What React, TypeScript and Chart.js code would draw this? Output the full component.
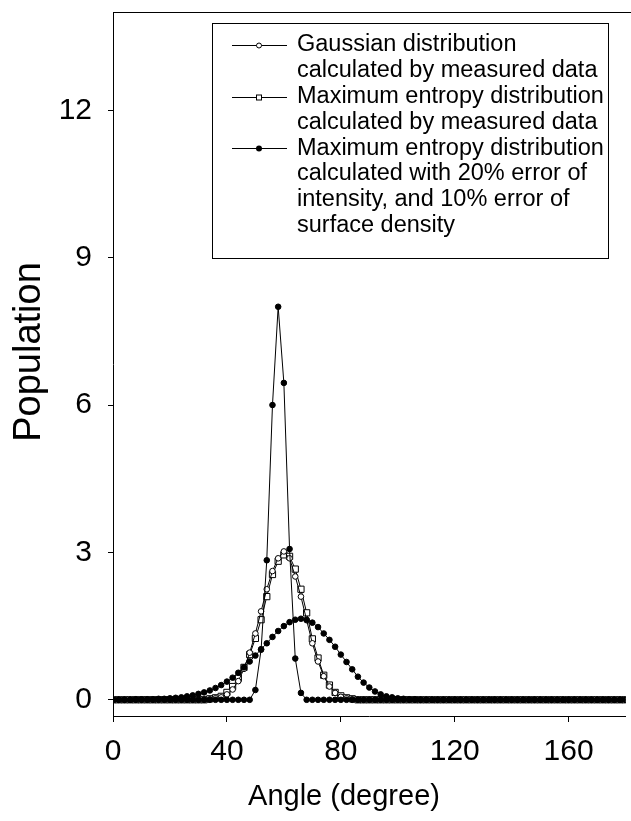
import React, { useEffect, useRef } from "react";
import { Chart, registerables } from "chart.js";

Chart.register(...registerables);

// Angle (degree), one point every 2 degrees
const angles = [
  0, 2, 4, 6, 8, 10, 12, 14, 16, 18,
  20, 22, 24, 26, 28, 30, 32, 34, 36, 38,
  40, 42, 44, 46, 48, 50, 52, 54, 56, 58,
  60, 62, 64, 66, 68, 70, 72, 74, 76, 78,
  80, 82, 84, 86, 88, 90, 92, 94, 96, 98,
  100, 102, 104, 106, 108, 110, 112, 114, 116, 118,
  120, 122, 124, 126, 128, 130, 132, 134, 136, 138,
  140, 142, 144, 146, 148, 150, 152, 154, 156, 158,
  160, 162, 164, 166, 168, 170, 172, 174, 176, 178,
  180,
];

// Gaussian distribution calculated by measured data (open circles)
const gaussianMeasured = [
  0, 0, 0, 0, 0, 0, 0, 0, 0, 0,
  0, 0, 0, 0, 0, 0, 0, 0.01, 0.03, 0.05,
  0.11, 0.21, 0.38, 0.63, 0.96, 1.35, 1.8, 2.25, 2.62, 2.88,
  3.02, 2.88, 2.51, 2.1, 1.62, 1.15, 0.78, 0.48, 0.27, 0.14,
  0.06, 0.03, 0.01, 0, 0, 0, 0, 0, 0, 0,
  0, 0, 0, 0, 0, 0, 0, 0, 0, 0,
  0, 0, 0, 0, 0, 0, 0, 0, 0, 0,
  0, 0, 0, 0, 0, 0, 0, 0, 0, 0,
  0, 0, 0, 0, 0, 0, 0, 0, 0, 0,
  0,
];

// Maximum entropy distribution calculated by measured data (open squares)
const maxEntropyMeasured = [
  0, 0, 0, 0, 0, 0, 0, 0, 0, 0,
  0, 0, 0, 0, 0, 0, 0, 0.02, 0.04, 0.07,
  0.15, 0.27, 0.44, 0.66, 0.92, 1.25, 1.63, 2.1, 2.55, 2.82,
  2.95, 2.92, 2.66, 2.25, 1.77, 1.24, 0.85, 0.5, 0.3, 0.15,
  0.08, 0.04, 0.02, 0, 0, 0, 0, 0, 0, 0,
  0, 0, 0, 0, 0, 0, 0, 0, 0, 0,
  0, 0, 0, 0, 0, 0, 0, 0, 0, 0,
  0, 0, 0, 0, 0, 0, 0, 0, 0, 0,
  0, 0, 0, 0, 0, 0, 0, 0, 0, 0,
  0,
];

// Maximum entropy distribution with errors, narrow peak (filled circles)
const maxEntropyErrorNarrow = [
  0, 0, 0, 0, 0, 0, 0, 0, 0, 0,
  0, 0, 0, 0, 0, 0, 0, 0, 0, 0,
  0, 0, 0, 0, 0, 0.2, 1.02, 2.84, 6.0, 8.0,
  6.45, 3.07, 0.84, 0.14, 0, 0, 0, 0, 0, 0,
  0, 0, 0, 0, 0, 0, 0, 0, 0, 0,
  0, 0, 0, 0, 0, 0, 0, 0, 0, 0,
  0, 0, 0, 0, 0, 0, 0, 0, 0, 0,
  0, 0, 0, 0, 0, 0, 0, 0, 0, 0,
  0, 0, 0, 0, 0, 0, 0, 0, 0, 0,
  0,
];

// Maximum entropy distribution with errors, broad curve (filled circles)
const maxEntropyErrorBroad = [
  0, 0, 0, 0, 0.01, 0.01, 0.01, 0.01, 0.02, 0.02,
  0.03, 0.04, 0.05, 0.07, 0.09, 0.12, 0.15, 0.19, 0.24, 0.3,
  0.37, 0.45, 0.55, 0.66, 0.78, 0.9, 1.03, 1.15, 1.28, 1.4,
  1.5, 1.58, 1.63, 1.65, 1.63, 1.57, 1.48, 1.35, 1.22, 1.08,
  0.92, 0.77, 0.62, 0.47, 0.35, 0.25, 0.17, 0.11, 0.07, 0.05,
  0.03, 0.02, 0.01, 0.01, 0, 0, 0, 0, 0, 0,
  0, 0, 0, 0, 0, 0, 0, 0, 0, 0,
  0, 0, 0, 0, 0, 0, 0, 0, 0, 0,
  0, 0, 0, 0, 0, 0, 0, 0, 0, 0,
  0,
];

const xTicks = [0, 40, 80, 120, 160];
const yTicks = [0, 3, 6, 9, 12];

const xTitle = "Angle (degree)";
const yTitle = "Population";

const legendGaussian = ["Gaussian distribution", "calculated by measured data"];
const legendMaxEntropy = ["Maximum entropy distribution", "calculated by measured data"];
const legendMaxEntropyError = [
  "Maximum entropy distribution",
  "calculated with 20% error of",
  "intensity, and 10% error of",
  "surface density",
];

const FONT = '"Liberation Sans", Arial, Helvetica, sans-serif';

const toXY = (vals: number[]) => angles.map((a, i) => ({ x: a, y: vals[i] }));

const decorPlugin = {
  id: "decor",
  afterDraw(chart: any) {
    const { ctx, chartArea } = chart;
    ctx.save();
    ctx.strokeStyle = "#000";
    ctx.lineWidth = 1;
    // top frame line
    ctx.beginPath();
    ctx.moveTo(chartArea.left, Math.round(chartArea.top) + 0.5);
    ctx.lineTo(chart.width, Math.round(chartArea.top) + 0.5);
    ctx.stroke();

    // axis titles
    ctx.fillStyle = "#000";
    ctx.textAlign = "center";
    ctx.textBaseline = "middle";
    ctx.font = `29px ${FONT}`;
    ctx.fillText(xTitle, 344, 797);
    ctx.save();
    ctx.font = `38px ${FONT}`;
    ctx.translate(30, 352);
    ctx.rotate(-Math.PI / 2);
    ctx.fillText(yTitle, 0, 0);
    ctx.restore();

    // legend box
    const bx = 212.5, by = 23.5, bw = 396, bh = 235;
    ctx.fillStyle = "#fff";
    ctx.fillRect(bx, by, bw, bh);
    ctx.strokeRect(bx, by, bw, bh);

    const lines = [...legendGaussian, ...legendMaxEntropy, ...legendMaxEntropyError];
    const y0 = 45;
    const lh = 25.8;
    ctx.fillStyle = "#000";
    ctx.font = `23.5px ${FONT}`;
    ctx.textAlign = "left";
    ctx.textBaseline = "middle";
    lines.forEach((t, i) => ctx.fillText(t, 297, y0 + i * lh));

    const markerRows = [0, 2, 4];
    markerRows.forEach((row, k) => {
      const y = Math.round(y0 + row * lh) + 0.5;
      ctx.beginPath();
      ctx.moveTo(232, y);
      ctx.lineTo(287, y);
      ctx.stroke();
      const mx = 259;
      if (k === 0) {
        ctx.beginPath();
        ctx.arc(mx, y, 2.5, 0, Math.PI * 2);
        ctx.fillStyle = "#fff";
        ctx.fill();
        ctx.stroke();
      } else if (k === 1) {
        ctx.fillStyle = "#fff";
        ctx.fillRect(mx - 2.5, y - 2.5, 5, 5);
        ctx.strokeRect(mx - 2.5, y - 2.5, 5, 5);
      } else {
        ctx.beginPath();
        ctx.arc(mx, y, 3, 0, Math.PI * 2);
        ctx.fillStyle = "#000";
        ctx.fill();
      }
    });
    ctx.restore();
  },
};

export default function App() {
  const canvasRef = useRef<HTMLCanvasElement | null>(null);

  useEffect(() => {
    if (!canvasRef.current) return;
    const filled = {
      borderColor: "#000",
      borderWidth: 1,
      pointStyle: "circle",
      pointRadius: 2.8,
      pointBorderWidth: 1,
      pointBorderColor: "#000",
      pointBackgroundColor: "#000",
      tension: 0,
    };
    const chart = new Chart(canvasRef.current, {
      type: "line",
      data: {
        datasets: [
          {
            ...filled,
            label: legendMaxEntropyError.join(" "),
            data: toXY(maxEntropyErrorNarrow),
          },
          {
            ...filled,
            label: legendMaxEntropyError.join(" ") + " ",
            data: toXY(maxEntropyErrorBroad),
          },
          {
            label: legendGaussian.join(" "),
            data: toXY(gaussianMeasured),
            borderColor: "#000",
            borderWidth: 1,
            pointStyle: "circle",
            pointRadius: 2.8,
            pointBorderWidth: 1,
            pointBorderColor: "#000",
            pointBackgroundColor: "#fff",
            tension: 0,
          },
          {
            label: legendMaxEntropy.join(" "),
            data: toXY(maxEntropyMeasured),
            borderColor: "#000",
            borderWidth: 1,
            pointStyle: "rect",
            pointRadius: 4.4,
            pointBorderWidth: 1,
            pointBorderColor: "#000",
            pointBackgroundColor: "#fff",
            tension: 0,
          },
        ],
      },
      options: {
        responsive: false,
        devicePixelRatio: 1,
        animation: false,
        layout: { padding: { top: 12, right: 0, left: 0, bottom: 0 } },
        plugins: {
          legend: { display: false },
          tooltip: { enabled: false },
        },
        scales: {
          x: {
            type: "linear",
            min: 0,
            max: 180,
            afterBuildTicks: (s: any) => {
              s.ticks = xTicks.map((v) => ({ value: v }));
            },
            afterFit: (s: any) => {
              s.height = 105;
              s.paddingLeft = 0;
              s.paddingRight = 0;
            },
            grid: {
              display: true,
              drawOnChartArea: false,
              drawTicks: true,
              tickLength: 6,
              color: "#000",
            },
            border: { display: true, color: "#000", width: 1 },
            ticks: {
              color: "#000",
              font: { family: FONT, size: 30 },
              padding: 12,
              maxRotation: 0,
              autoSkip: false,
            },
          },
          y: {
            type: "linear",
            min: -0.33,
            max: 14,
            afterBuildTicks: (s: any) => {
              s.ticks = yTicks.map((v) => ({ value: v }));
            },
            afterFit: (s: any) => {
              s.width = 113;
              s.paddingTop = 0;
              s.paddingBottom = 0;
            },
            grid: {
              display: true,
              drawOnChartArea: false,
              drawTicks: true,
              tickLength: 5,
              color: "#000",
            },
            border: { display: true, color: "#000", width: 1 },
            ticks: {
              color: "#000",
              font: { family: FONT, size: 30 },
              padding: 16,
              autoSkip: false,
            },
          },
        },
      },
      plugins: [decorPlugin],
    });
    return () => chart.destroy();
  }, []);

  return (
    <div style={{ position: "absolute", left: 0, top: 0, width: 631, height: 821, background: "#fff" }}>
      <canvas ref={canvasRef} width={631} height={821} style={{ display: "block" }} />
    </div>
  );
}
